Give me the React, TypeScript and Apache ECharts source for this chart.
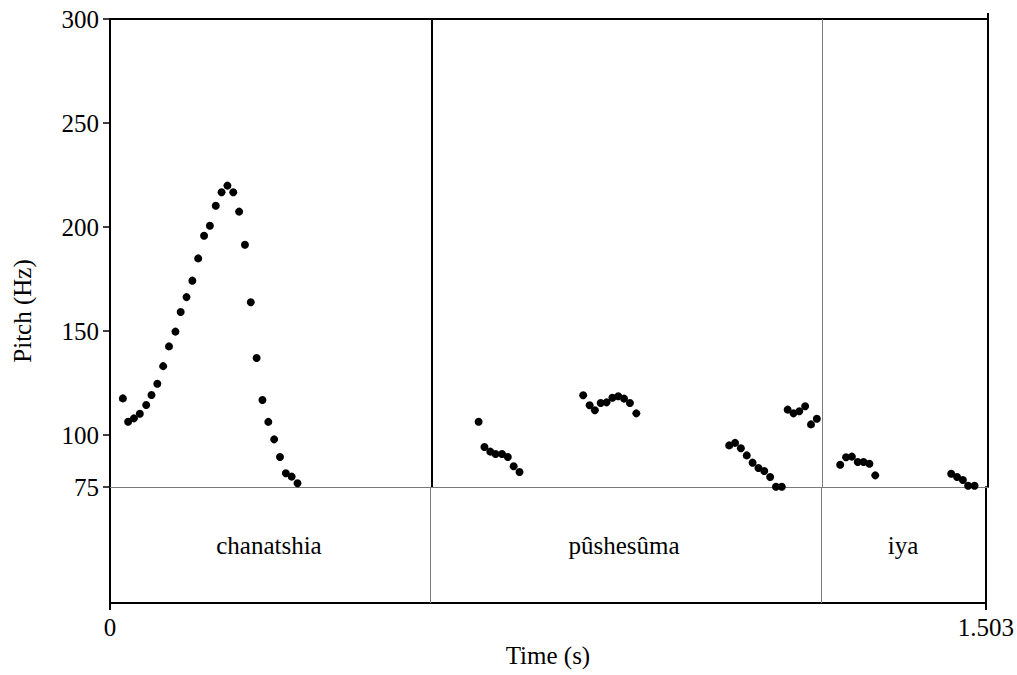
import React, { useEffect, useRef } from "react";
import * as echarts from "echarts";

// Pitch track (time in s, pitch in Hz)
const pitchTimes = [
  0.022, 0.031, 0.041, 0.051, 0.062, 0.071, 0.081, 0.091, 0.101, 0.112,
  0.121, 0.131, 0.141, 0.151, 0.161, 0.171, 0.181, 0.191, 0.201, 0.211,
  0.221, 0.231, 0.241, 0.251, 0.261, 0.271, 0.281, 0.291, 0.301, 0.311, 0.321,
  0.631, 0.641, 0.651, 0.660, 0.671, 0.681, 0.691, 0.701,
  0.810, 0.821, 0.830, 0.840, 0.850, 0.860, 0.870, 0.880, 0.890, 0.901,
  1.060, 1.070, 1.080, 1.090, 1.100, 1.110, 1.120, 1.130, 1.140, 1.150,
  1.160, 1.170, 1.180, 1.190, 1.200, 1.210,
  1.250, 1.260, 1.270, 1.280, 1.290, 1.300, 1.310,
  1.440, 1.450, 1.460, 1.469, 1.480,
];
const pitchHz = [
  117.6, 106.4, 108.0, 110.2, 114.4, 119.2, 124.6, 133.1, 142.6, 149.7,
  159.1, 166.3, 174.2, 184.9, 195.8, 200.6, 210.2, 216.7, 219.9, 216.7,
  207.4, 191.5, 163.8, 137.0, 116.8, 106.3, 97.9, 89.4, 81.6, 80.0, 76.8,
  106.4, 94.2, 92.0, 90.9, 90.9, 89.4, 85.0, 82.2,
  119.1, 114.3, 111.9, 115.4, 115.7, 117.9, 118.6, 117.5, 115.4, 110.4,
  95.0, 96.2, 93.6, 90.2, 86.7, 84.1, 82.7, 79.8, 75.1, 75.1,
  112.2, 110.4, 111.4, 113.8, 105.1, 107.8,
  85.7, 89.3, 89.6, 87.0, 87.0, 86.2, 80.6,
  81.4, 79.8, 78.4, 75.6, 75.6,
];

// Text grid tier
const totalDuration = 1.503;
const intervalEdges = [0, 0.5455, 1.2188, 1.503];
const intervalLabels = ["chanatshia", "pûshesûma", "iya"];

// Axis ticks
const pitchMin = 75;
const pitchMax = 300;
const pitchTicks = [75, 100, 150, 200, 250, 300];
const timeTicks = [0, 1.503];

const FONT = "Liberation Serif, DejaVu Serif, serif";
const GREY = "#7a7a7a";

export default function App() {
  const ref = useRef<HTMLDivElement>(null);

  useEffect(() => {
    if (!ref.current) return;
    const chart = echarts.init(ref.current, null, { renderer: "svg" });

    const points = pitchTimes.map((t, i) => [t, pitchHz[i]]);
    const boundaries = intervalEdges.slice(1, -1);
    const tierData = intervalLabels.map((name, i) => [
      (intervalEdges[i] + intervalEdges[i + 1]) / 2,
      0.5,
      name,
    ]);

    const blackLine = { show: true, onZero: false, lineStyle: { color: "#000", width: 2 } };
    const textStyle = { fontFamily: FONT, fontSize: 25, color: "#000" };

    chart.setOption({
      animation: false,
      backgroundColor: "#fff",
      textStyle: { fontFamily: FONT },
      grid: [
        { left: 110, right: 29, top: 19, height: 468 },
        { left: 110, right: 29, top: 487, height: 116 },
      ],
      xAxis: [
        {
          type: "value", gridIndex: 0, position: "top", min: 0, max: totalDuration,
          axisLine: blackLine,
          axisTick: { show: true, inside: false, length: 6, customValues: [totalDuration], lineStyle: { color: "#000", width: 2 } },
          axisLabel: { show: false }, splitLine: { show: false },
        },
        {
          type: "value", gridIndex: 0, position: "bottom", min: 0, max: totalDuration,
          axisLine: { show: true, onZero: false, lineStyle: { color: GREY, width: 1 } },
          axisTick: { show: false }, axisLabel: { show: false }, splitLine: { show: false },
        },
        {
          type: "value", gridIndex: 1, position: "bottom", min: 0, max: totalDuration,
          axisLine: blackLine,
          axisTick: { show: true, length: 7, customValues: timeTicks, lineStyle: { color: "#000", width: 2 } },
          axisLabel: {
            show: true, customValues: timeTicks, margin: 12, ...textStyle,
            formatter: (v: number) => (v === 0 ? "0" : String(v)),
          },
          splitLine: { show: false },
          name: "Time (s)", nameLocation: "middle", nameGap: 40, nameTextStyle: textStyle,
        },
      ],
      yAxis: [
        {
          type: "value", gridIndex: 0, position: "left", min: pitchMin, max: pitchMax,
          axisLine: blackLine,
          axisTick: { show: true, length: 7, customValues: pitchTicks, lineStyle: { color: "#000", width: 1.5 } },
          axisLabel: { show: true, customValues: pitchTicks, margin: 11, ...textStyle },
          splitLine: { show: false },
        },
        {
          type: "value", gridIndex: 0, position: "right", min: pitchMin, max: pitchMax,
          axisLine: blackLine, axisTick: { show: false }, axisLabel: { show: false }, splitLine: { show: false },
        },
        {
          type: "value", gridIndex: 1, position: "left", min: 0, max: 1,
          axisLine: blackLine, axisTick: { show: false }, axisLabel: { show: false }, splitLine: { show: false },
        },
        {
          type: "value", gridIndex: 1, position: "right", min: 0, max: 1,
          axisLine: blackLine, axisTick: { show: false }, axisLabel: { show: false }, splitLine: { show: false },
        },
      ],
      graphic: [
        {
          type: "text", x: 22, y: 311, rotation: Math.PI / 2,
          style: { text: "Pitch (Hz)", ...textStyle, fill: "#000", align: "center", verticalAlign: "middle" },
        },
      ],
      series: [
        {
          type: "scatter", xAxisIndex: 0, yAxisIndex: 0, data: points,
          symbol: "circle", symbolSize: 8, itemStyle: { color: "#000", opacity: 1 },
          markLine: {
            silent: true, symbol: ["none", "none"], label: { show: false },
            data: boundaries.map((b, i) => ({
              xAxis: b,
              lineStyle: i === 0 ? { color: "#000", width: 2, type: "solid" } : { color: GREY, width: 1, type: "solid" },
            })),
          },
        },
        {
          type: "scatter", xAxisIndex: 2, yAxisIndex: 2, data: tierData,
          symbolSize: 1, itemStyle: { color: "rgba(0,0,0,0)", opacity: 1 },
          label: {
            show: true, position: "inside", ...textStyle,
            formatter: (p: any) => p.data[2],
          },
          markLine: {
            silent: true, symbol: ["none", "none"], label: { show: false },
            data: boundaries.map((b) => ({ xAxis: b, lineStyle: { color: GREY, width: 1, type: "solid" } })),
          },
        },
      ],
    });

    return () => chart.dispose();
  }, []);

  return (
    <div
      ref={ref}
      style={{ position: "fixed", left: 0, top: 0, width: 1017, height: 675, background: "#fff" }}
    />
  );
}
